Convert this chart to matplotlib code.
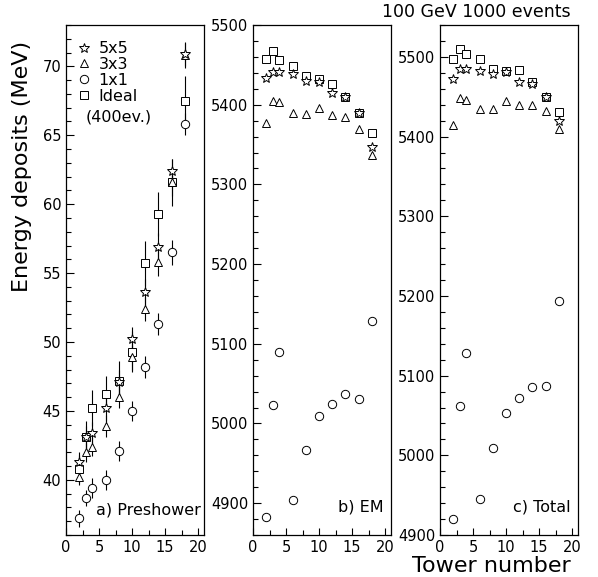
import matplotlib.pyplot as plt
from matplotlib.ticker import MultipleLocator
from matplotlib.lines import Line2D

plt.rcParams['font.family'] = ['DejaVu Sans']

# tower numbers
towers = [2, 3, 4, 6, 8, 10, 12, 14, 16, 18]

# a) Preshower (MeV)
pre_5x5 = [41.3, 43.1, 43.4, 45.2, 47.1, 50.2, 53.6, 56.9, 62.4, 70.9]
pre_3x3 = [40.2, 42.0, 42.4, 43.9, 46.0, 48.9, 52.4, 55.8, 61.6, 70.8]
pre_1x1 = [37.2, 38.7, 39.4, 40.0, 42.1, 45.0, 48.2, 51.3, 56.5, 65.8]
pre_ideal = [40.8, 43.1, 45.2, 46.2, 47.2, 49.3, 55.7, 59.3, 61.6, 67.5]
err_5x5 = [0.7, 0.8, 0.8, 0.9, 0.9, 0.9, 1.0, 1.0, 0.9, 0.9]
err_3x3 = [0.6, 0.7, 0.7, 0.8, 0.8, 0.9, 0.9, 1.0, 1.0, 0.9]
err_1x1 = [0.6, 0.6, 0.7, 0.7, 0.7, 0.7, 0.8, 0.8, 0.9, 0.8]
err_ideal = [1.0, 1.2, 1.3, 1.3, 1.4, 1.5, 1.6, 1.6, 1.7, 1.8]

# b) EM (MeV)
em_5x5 = [5433, 5441, 5441, 5438, 5430, 5429, 5415, 5410, 5389, 5347]
em_3x3 = [5377, 5405, 5403, 5390, 5388, 5396, 5387, 5385, 5369, 5337]
em_1x1 = [4883, 5023, 5090, 4904, 4967, 5009, 5024, 5037, 5031, 5129]
em_ideal = [5457, 5468, 5456, 5449, 5436, 5432, 5426, 5410, 5390, 5365]

# c) Total (MeV)
tot_5x5 = [5472, 5485, 5485, 5482, 5479, 5481, 5469, 5466, 5450, 5419]
tot_3x3 = [5415, 5449, 5446, 5435, 5435, 5445, 5439, 5440, 5432, 5409]
tot_1x1 = [4920, 5062, 5129, 4945, 5009, 5053, 5072, 5086, 5087, 5194]
tot_ideal = [5497, 5510, 5503, 5497, 5485, 5482, 5483, 5469, 5450, 5431]

fig = plt.figure(figsize=(5.98, 5.77), dpi=100)

bottom, height, width = 42 / 577, 510 / 577, 138 / 598
ax_a = fig.add_axes([66 / 598, bottom, width, height])
ax_b = fig.add_axes([253 / 598, bottom, width, height])
ax_c = fig.add_axes([440 / 598, bottom, width, height])

star = dict(marker='*', ms=7, mfc='white', mec='black', mew=0.7, ls='none', color='black')
tri = dict(marker='^', ms=6, mfc='white', mec='black', mew=0.7, ls='none', color='black')
circ = dict(marker='o', ms=6, mfc='white', mec='black', mew=0.7, ls='none', color='black')
sq = dict(marker='s', ms=6, mfc='white', mec='black', mew=0.7, ls='none', color='black')

# preshower panel with error bars
ax_a.errorbar(towers, pre_ideal, yerr=err_ideal, elinewidth=0.8, capsize=0, **sq)
ax_a.errorbar(towers, pre_1x1, yerr=err_1x1, elinewidth=0.8, capsize=0, **circ)
ax_a.errorbar(towers, pre_3x3, yerr=err_3x3, elinewidth=0.8, capsize=0, **tri)
ax_a.errorbar(towers, pre_5x5, yerr=err_5x5, elinewidth=0.8, capsize=0, **star)

for ax, s5, s3, s1, si in [(ax_b, em_5x5, em_3x3, em_1x1, em_ideal),
                           (ax_c, tot_5x5, tot_3x3, tot_1x1, tot_ideal)]:
    ax.plot(towers, si, **sq)
    ax.plot(towers, s1, **circ)
    ax.plot(towers, s3, **tri)
    ax.plot(towers, s5, **star)

ax_a.set_ylim(36, 73)
ax_b.set_ylim(4860, 5500)
ax_c.set_ylim(4900, 5540)

ax_a.yaxis.set_major_locator(MultipleLocator(5))
ax_a.yaxis.set_minor_locator(MultipleLocator(1))
for ax in (ax_b, ax_c):
    ax.yaxis.set_major_locator(MultipleLocator(100))
    ax.yaxis.set_minor_locator(MultipleLocator(20))

for ax in (ax_a, ax_b, ax_c):
    ax.set_xlim(0, 20.9)
    ax.xaxis.set_major_locator(MultipleLocator(5))
    ax.xaxis.set_minor_locator(MultipleLocator(2.5))
    ax.tick_params(which='both', direction='in', labelsize=10.5, top=False, right=False)
    ax.tick_params(which='major', length=6, width=0.8)
    ax.tick_params(which='minor', length=3.5, width=0.8)
    ax.tick_params(axis='x', which='major', length=5)
    for sp in ax.spines.values():
        sp.set_linewidth(0.9)

ax_a.text(0.22, 0.035, 'a) Preshower', transform=ax_a.transAxes, fontsize=11.5, va='bottom')
ax_b.text(0.95, 0.04, 'b) EM', transform=ax_b.transAxes, fontsize=11.5, va='bottom', ha='right')
ax_c.text(0.95, 0.04, 'c) Total', transform=ax_c.transAxes, fontsize=11.5, va='bottom', ha='right')

handles = [Line2D([], [], **star), Line2D([], [], **tri), Line2D([], [], **circ), Line2D([], [], **sq)]
ax_a.legend(handles, ['5x5', '3x3', '1x1', 'Ideal'], loc='upper left', bbox_to_anchor=(-0.02, 0.99),
            frameon=False, fontsize=11.5, handlelength=1.2, handletextpad=0.3, labelspacing=0.05,
            borderaxespad=0.3)
ax_a.text(0.14, 0.82, '(400ev.)', transform=ax_a.transAxes, fontsize=11.5, va='center')

fig.text(0.036, 0.711, 'Energy deposits (MeV)', rotation=90, fontsize=16, ha='center', va='center')
fig.text(0.955, 0.009, 'Tower number', fontsize=16, ha='right', va='baseline')
fig.text(0.955, 0.979, '100 GeV 1000 events', fontsize=12.5, ha='right', va='center')

fig.savefig('out.png', dpi=100)
